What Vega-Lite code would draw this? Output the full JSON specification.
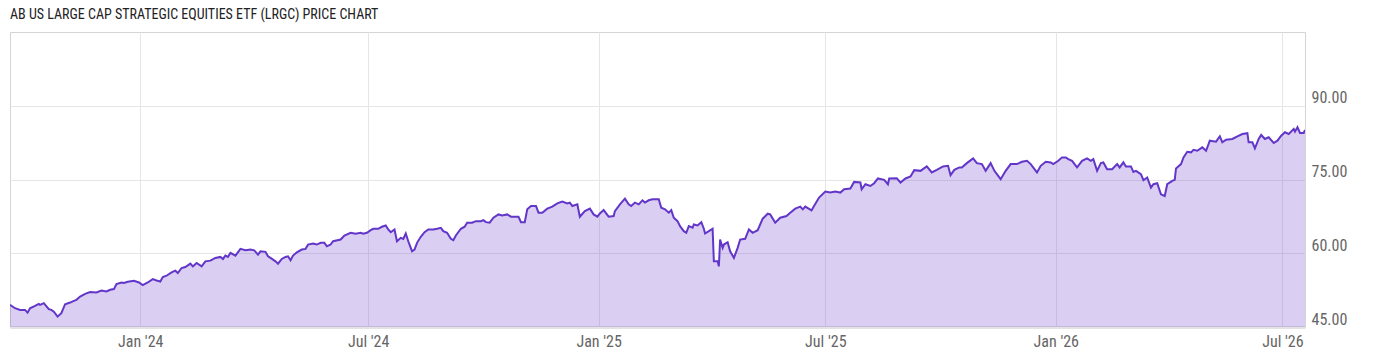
{
  "$schema": "https://vega.github.io/schema/vega-lite/v6.json",
  "width": 1295,
  "height": 295,
  "autosize": {"type": "none"},
  "padding": {"left": 10, "top": 32, "right": 95, "bottom": 30},
  "background": "white",
  "title": {
    "text": "AB US LARGE CAP STRATEGIC EQUITIES ETF (LRGC) PRICE CHART",
    "anchor": "start",
    "font": "Roboto Condensed, Liberation Sans Narrow, DejaVu Sans Condensed, Roboto",
    "fontSize": 14,
    "fontWeight": "normal",
    "color": "#222222",
    "offset": 10
  },
  "config": {
    "view": {"stroke": "#d4d4d4", "strokeWidth": 1},
    "axis": {
      "labelFont": "Roboto Condensed, Liberation Sans Narrow, DejaVu Sans Condensed, Roboto",
      "labelColor": "#666666",
      "labelFontSize": 16,
      "gridColor": "#e6e6e6",
      "gridWidth": 1,
      "ticks": false,
      "title": null
    }
  },
  "data": {
    "values": [
      {"d":"2023-09-19","p":49.5},{"d":"2023-09-23","p":48.82},{"d":"2023-09-27","p":48.48},{"d":"2023-10-01","p":48.48},
      {"d":"2023-10-03","p":47.92},{"d":"2023-10-05","p":48.82},{"d":"2023-10-09","p":49.29},{"d":"2023-10-12","p":49.7},
      {"d":"2023-10-13","p":49.5},{"d":"2023-10-16","p":49.85},{"d":"2023-10-20","p":48.62},{"d":"2023-10-22","p":48.48},
      {"d":"2023-10-24","p":48.13},{"d":"2023-10-27","p":47.11},{"d":"2023-10-30","p":47.8},{"d":"2023-11-02","p":49.64},
      {"d":"2023-11-06","p":49.97},{"d":"2023-11-09","p":50.32},{"d":"2023-11-11","p":50.52},{"d":"2023-11-14","p":51.2},
      {"d":"2023-11-18","p":51.75},{"d":"2023-11-22","p":52.1},{"d":"2023-11-27","p":52.01},{"d":"2023-12-01","p":52.42},
      {"d":"2023-12-05","p":52.22},{"d":"2023-12-08","p":52.57},{"d":"2023-12-11","p":52.71},{"d":"2023-12-13","p":53.73},
      {"d":"2023-12-17","p":54.06},{"d":"2023-12-19","p":53.94},{"d":"2023-12-22","p":54.2},{"d":"2023-12-27","p":54.41},
      {"d":"2023-12-31","p":54.06},{"d":"2024-01-03","p":53.53},{"d":"2024-01-07","p":54.06},{"d":"2024-01-11","p":54.75},
      {"d":"2024-01-14","p":54.47},{"d":"2024-01-17","p":54.26},{"d":"2024-01-19","p":55.16},{"d":"2024-01-22","p":55.43},
      {"d":"2024-01-26","p":56.1},{"d":"2024-01-29","p":56.45},{"d":"2024-01-31","p":55.98},{"d":"2024-02-03","p":57.0},
      {"d":"2024-02-06","p":57.21},{"d":"2024-02-10","p":57.88},{"d":"2024-02-12","p":57.33},{"d":"2024-02-15","p":58.03},
      {"d":"2024-02-19","p":57.33},{"d":"2024-02-22","p":58.35},{"d":"2024-02-26","p":58.5},{"d":"2024-03-01","p":59.05},
      {"d":"2024-03-05","p":59.25},{"d":"2024-03-07","p":58.84},{"d":"2024-03-09","p":59.52},{"d":"2024-03-11","p":59.25},
      {"d":"2024-03-13","p":60.07},{"d":"2024-03-17","p":59.52},{"d":"2024-03-21","p":60.89},{"d":"2024-03-25","p":60.6},
      {"d":"2024-03-29","p":60.75},{"d":"2024-04-01","p":60.6},{"d":"2024-04-04","p":59.72},{"d":"2024-04-06","p":60.4},
      {"d":"2024-04-10","p":60.28},{"d":"2024-04-12","p":59.38},{"d":"2024-04-14","p":59.05},{"d":"2024-04-18","p":58.35},
      {"d":"2024-04-20","p":57.88},{"d":"2024-04-23","p":58.84},{"d":"2024-04-26","p":59.25},{"d":"2024-04-28","p":59.38},
      {"d":"2024-04-30","p":58.56},{"d":"2024-05-02","p":59.52},{"d":"2024-05-05","p":60.19},{"d":"2024-05-09","p":60.75},
      {"d":"2024-05-12","p":60.89},{"d":"2024-05-14","p":61.77},{"d":"2024-05-18","p":61.97},{"d":"2024-05-21","p":61.77},
      {"d":"2024-05-24","p":62.12},{"d":"2024-05-27","p":62.12},{"d":"2024-05-29","p":61.42},{"d":"2024-06-01","p":61.77},
      {"d":"2024-06-03","p":62.44},{"d":"2024-06-09","p":62.79},{"d":"2024-06-12","p":63.61},{"d":"2024-06-17","p":64.16},
      {"d":"2024-06-21","p":63.96},{"d":"2024-06-25","p":64.16},{"d":"2024-06-27","p":63.96},{"d":"2024-06-30","p":64.16},
      {"d":"2024-07-03","p":64.69},{"d":"2024-07-05","p":64.98},{"d":"2024-07-09","p":64.98},{"d":"2024-07-12","p":65.39},
      {"d":"2024-07-15","p":65.65},{"d":"2024-07-17","p":64.84},{"d":"2024-07-19","p":64.28},{"d":"2024-07-22","p":64.84},
      {"d":"2024-07-24","p":62.44},{"d":"2024-07-27","p":63.14},{"d":"2024-07-29","p":62.93},{"d":"2024-07-31","p":64.02},
      {"d":"2024-08-02","p":62.44},{"d":"2024-08-04","p":61.09},{"d":"2024-08-05","p":60.4},{"d":"2024-08-07","p":60.75},
      {"d":"2024-08-09","p":62.12},{"d":"2024-08-12","p":63.34},{"d":"2024-08-15","p":64.28},{"d":"2024-08-18","p":64.84},
      {"d":"2024-08-22","p":64.84},{"d":"2024-08-25","p":64.98},{"d":"2024-08-28","p":65.18},{"d":"2024-08-30","p":64.49},
      {"d":"2024-09-02","p":64.16},{"d":"2024-09-05","p":62.93},{"d":"2024-09-07","p":62.65},{"d":"2024-09-09","p":63.61},
      {"d":"2024-09-13","p":64.98},{"d":"2024-09-16","p":65.39},{"d":"2024-09-18","p":66.21},{"d":"2024-09-22","p":66.21},
      {"d":"2024-09-25","p":66.53},{"d":"2024-09-29","p":66.53},{"d":"2024-10-01","p":66.74},{"d":"2024-10-03","p":66.33},
      {"d":"2024-10-06","p":66.21},{"d":"2024-10-09","p":67.23},{"d":"2024-10-13","p":67.9},{"d":"2024-10-16","p":67.7},
      {"d":"2024-10-20","p":67.9},{"d":"2024-10-23","p":67.43},{"d":"2024-10-29","p":67.43},{"d":"2024-10-31","p":66.33},
      {"d":"2024-11-03","p":66.33},{"d":"2024-11-05","p":68.93},{"d":"2024-11-08","p":69.6},{"d":"2024-11-12","p":69.6},
      {"d":"2024-11-14","p":68.25},{"d":"2024-11-17","p":68.25},{"d":"2024-11-21","p":69.07},{"d":"2024-11-25","p":69.48},
      {"d":"2024-11-29","p":70.15},{"d":"2024-12-03","p":70.5},{"d":"2024-12-07","p":70.15},{"d":"2024-12-09","p":70.3},
      {"d":"2024-12-11","p":69.6},{"d":"2024-12-15","p":69.95},{"d":"2024-12-17","p":67.43},{"d":"2024-12-21","p":68.58},
      {"d":"2024-12-25","p":69.07},{"d":"2024-12-28","p":67.9},{"d":"2024-12-31","p":67.43},{"d":"2025-01-02","p":68.11},
      {"d":"2025-01-05","p":68.78},{"d":"2025-01-09","p":67.43},{"d":"2025-01-13","p":67.56},{"d":"2025-01-14","p":68.58},
      {"d":"2025-01-18","p":69.95},{"d":"2025-01-22","p":71.11},{"d":"2025-01-25","p":69.95},{"d":"2025-01-27","p":69.6},
      {"d":"2025-01-30","p":70.3},{"d":"2025-02-02","p":69.95},{"d":"2025-02-05","p":70.77},{"d":"2025-02-07","p":70.3},
      {"d":"2025-02-10","p":70.77},{"d":"2025-02-13","p":70.97},{"d":"2025-02-18","p":70.97},{"d":"2025-02-20","p":69.27},
      {"d":"2025-02-23","p":68.93},{"d":"2025-02-26","p":68.25},{"d":"2025-02-28","p":68.78},{"d":"2025-03-02","p":67.23},
      {"d":"2025-03-05","p":66.53},{"d":"2025-03-07","p":65.51},{"d":"2025-03-10","p":64.49},{"d":"2025-03-12","p":64.16},
      {"d":"2025-03-14","p":65.51},{"d":"2025-03-17","p":65.18},{"d":"2025-03-18","p":65.86},{"d":"2025-03-21","p":65.65},
      {"d":"2025-03-24","p":66.33},{"d":"2025-03-26","p":64.98},{"d":"2025-03-27","p":64.02},{"d":"2025-03-30","p":64.49},
      {"d":"2025-04-02","p":64.98},{"d":"2025-04-03","p":58.35},{"d":"2025-04-06","p":58.35},{"d":"2025-04-07","p":57.33},
      {"d":"2025-04-08","p":62.79},{"d":"2025-04-10","p":61.09},{"d":"2025-04-11","p":61.77},{"d":"2025-04-14","p":62.24},
      {"d":"2025-04-16","p":60.4},{"d":"2025-04-19","p":59.05},{"d":"2025-04-22","p":61.09},{"d":"2025-04-24","p":62.79},
      {"d":"2025-04-28","p":62.93},{"d":"2025-05-01","p":64.84},{"d":"2025-05-04","p":64.16},{"d":"2025-05-08","p":64.69},
      {"d":"2025-05-12","p":67.03},{"d":"2025-05-16","p":68.05},{"d":"2025-05-18","p":67.9},{"d":"2025-05-22","p":66.21},
      {"d":"2025-05-26","p":67.23},{"d":"2025-05-31","p":67.56},{"d":"2025-06-03","p":68.25},{"d":"2025-06-07","p":69.07},
      {"d":"2025-06-11","p":69.48},{"d":"2025-06-13","p":68.93},{"d":"2025-06-15","p":69.48},{"d":"2025-06-20","p":68.72},
      {"d":"2025-06-22","p":69.6},{"d":"2025-06-26","p":71.32},{"d":"2025-07-01","p":72.55},{"d":"2025-07-05","p":72.34},
      {"d":"2025-07-09","p":72.55},{"d":"2025-07-13","p":72.34},{"d":"2025-07-16","p":73.02},{"d":"2025-07-21","p":73.16},
      {"d":"2025-07-24","p":74.51},{"d":"2025-07-29","p":74.39},{"d":"2025-07-30","p":73.02},{"d":"2025-08-02","p":74.04},
      {"d":"2025-08-06","p":73.69},{"d":"2025-08-09","p":74.24},{"d":"2025-08-12","p":75.21},{"d":"2025-08-17","p":74.92},
      {"d":"2025-08-20","p":74.04},{"d":"2025-08-21","p":75.21},{"d":"2025-08-27","p":75.27},{"d":"2025-08-30","p":74.39},
      {"d":"2025-09-03","p":75.21},{"d":"2025-09-07","p":75.61},{"d":"2025-09-10","p":76.9},{"d":"2025-09-15","p":76.76},
      {"d":"2025-09-20","p":77.66},{"d":"2025-09-24","p":76.43},{"d":"2025-09-28","p":76.96},{"d":"2025-10-03","p":77.66},
      {"d":"2025-10-07","p":77.78},{"d":"2025-10-09","p":75.88},{"d":"2025-10-12","p":76.96},{"d":"2025-10-16","p":77.45},
      {"d":"2025-10-18","p":77.45},{"d":"2025-10-22","p":78.33},{"d":"2025-10-27","p":79.3},{"d":"2025-10-30","p":78.33},
      {"d":"2025-11-03","p":78.13},{"d":"2025-11-06","p":76.76},{"d":"2025-11-10","p":78.33},{"d":"2025-11-13","p":76.76},
      {"d":"2025-11-15","p":76.08},{"d":"2025-11-18","p":75.06},{"d":"2025-11-22","p":76.76},{"d":"2025-11-26","p":78.13},
      {"d":"2025-12-01","p":78.13},{"d":"2025-12-05","p":78.6},{"d":"2025-12-09","p":78.8},{"d":"2025-12-12","p":78.13},
      {"d":"2025-12-17","p":76.43},{"d":"2025-12-20","p":77.78},{"d":"2025-12-24","p":78.6},{"d":"2025-12-28","p":78.48},
      {"d":"2025-12-30","p":78.13},{"d":"2026-01-03","p":78.8},{"d":"2026-01-06","p":79.5},{"d":"2026-01-09","p":79.5},
      {"d":"2026-01-11","p":79.15},{"d":"2026-01-14","p":78.8},{"d":"2026-01-18","p":77.45},{"d":"2026-01-22","p":78.8},
      {"d":"2026-01-26","p":79.3},{"d":"2026-01-29","p":78.8},{"d":"2026-01-31","p":79.15},{"d":"2026-02-03","p":76.76},
      {"d":"2026-02-06","p":78.33},{"d":"2026-02-08","p":78.48},{"d":"2026-02-11","p":77.11},{"d":"2026-02-15","p":77.11},
      {"d":"2026-02-19","p":78.13},{"d":"2026-02-21","p":77.45},{"d":"2026-02-24","p":78.48},{"d":"2026-02-26","p":77.66},
      {"d":"2026-03-02","p":77.66},{"d":"2026-03-04","p":76.55},{"d":"2026-03-06","p":76.76},{"d":"2026-03-10","p":76.08},
      {"d":"2026-03-12","p":74.86},{"d":"2026-03-15","p":75.41},{"d":"2026-03-18","p":73.36},{"d":"2026-03-20","p":74.04},
      {"d":"2026-03-23","p":74.24},{"d":"2026-03-26","p":71.99},{"d":"2026-03-29","p":71.65},{"d":"2026-03-31","p":74.04},
      {"d":"2026-04-04","p":74.71},{"d":"2026-04-06","p":74.92},{"d":"2026-04-07","p":77.25},{"d":"2026-04-11","p":78.13},
      {"d":"2026-04-13","p":79.5},{"d":"2026-04-16","p":80.64},{"d":"2026-04-19","p":80.52},{"d":"2026-04-21","p":81.05},
      {"d":"2026-04-24","p":80.85},{"d":"2026-04-28","p":81.54},{"d":"2026-05-01","p":80.85},{"d":"2026-05-04","p":82.89},
      {"d":"2026-05-09","p":82.69},{"d":"2026-05-12","p":83.79},{"d":"2026-05-14","p":82.57},{"d":"2026-05-17","p":83.1},
      {"d":"2026-05-22","p":83.24},{"d":"2026-05-26","p":83.79},{"d":"2026-05-30","p":84.26},{"d":"2026-06-03","p":84.41},
      {"d":"2026-06-04","p":82.57},{"d":"2026-06-07","p":82.57},{"d":"2026-06-09","p":81.34},{"d":"2026-06-12","p":83.24},
      {"d":"2026-06-14","p":84.06},{"d":"2026-06-17","p":83.24},{"d":"2026-06-20","p":83.59},{"d":"2026-06-24","p":82.42},
      {"d":"2026-06-27","p":82.89},{"d":"2026-06-30","p":83.92},{"d":"2026-07-03","p":84.61},{"d":"2026-07-06","p":84.26},
      {"d":"2026-07-10","p":85.29},{"d":"2026-07-11","p":84.73},{"d":"2026-07-13","p":85.63},{"d":"2026-07-15","p":84.47},
      {"d":"2026-07-18","p":84.47},{"d":"2026-07-19","p":85.08}
    ]
  },
  "mark": {
    "type": "area",
    "clip": true,
    "color": "#6a3fcf",
    "fillOpacity": 0.25,
    "line": {"color": "#6236c8", "strokeWidth": 2},
    "interpolate": "linear"
  },
  "encoding": {
    "x": {
      "field": "d",
      "type": "temporal",
      "scale": {"domain": ["2023-09-19", "2026-07-19"], "nice": false},
      "axis": {
        "values": [
          {"year": 2024, "month": 1, "date": 1},
          {"year": 2024, "month": 7, "date": 1},
          {"year": 2025, "month": 1, "date": 1},
          {"year": 2025, "month": 7, "date": 1},
          {"year": 2026, "month": 1, "date": 1},
          {"year": 2026, "month": 7, "date": 1}
        ],
        "format": "%b '%y",
        "labelPadding": 6,
        "domain": true,
        "domainColor": "#e3e3e3",
        "domainWidth": 3
      }
    },
    "y": {
      "field": "p",
      "type": "quantitative",
      "scale": {"domain": [45, 105], "zero": false, "nice": false},
      "axis": {
        "orient": "right",
        "values": [45, 60, 75, 90],
        "format": ".2f",
        "labelAlign": "left",
        "labelBaseline": "bottom",
        "labelOffset": 0,
        "labelPadding": 6,
        "domain": false
      }
    }
  }
}
